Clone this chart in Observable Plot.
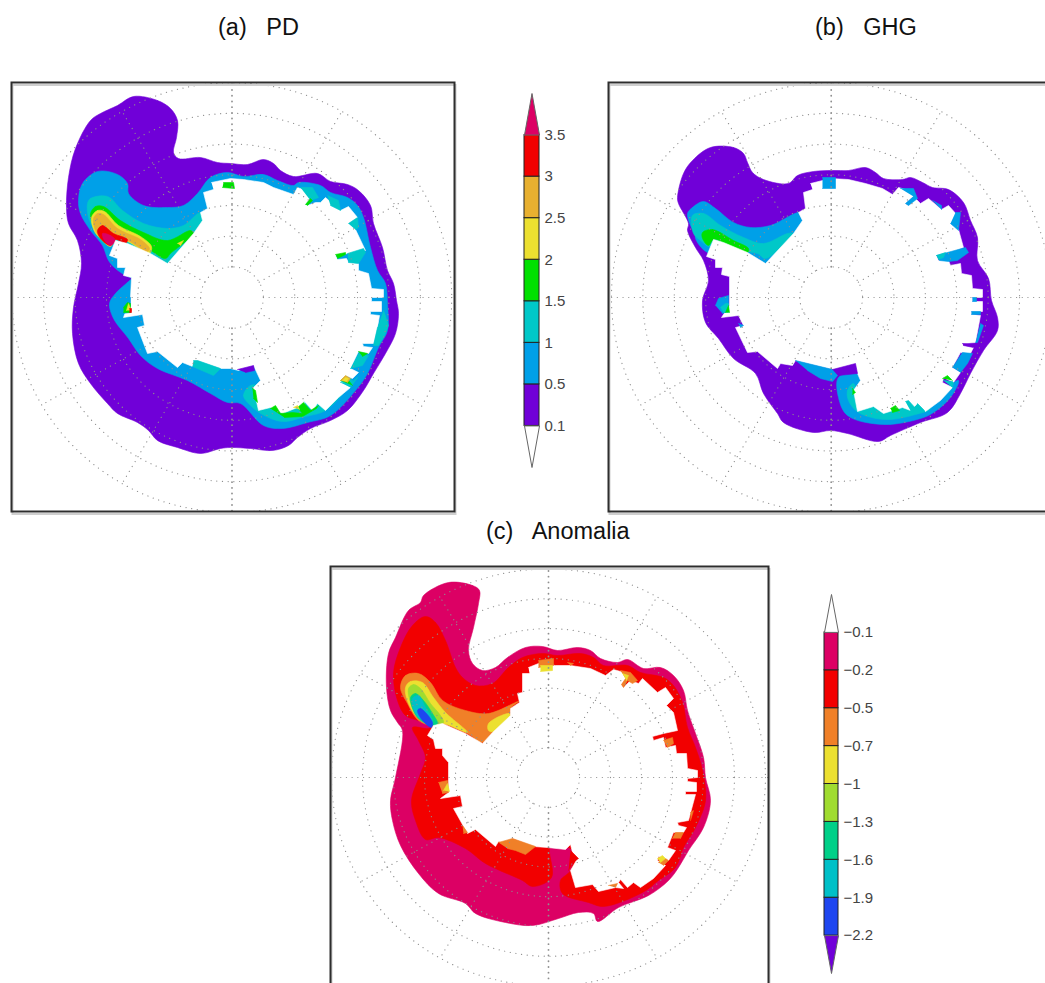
<!DOCTYPE html>
<html>
<head>
<meta charset="utf-8">
<script src="https://cdn.jsdelivr.net/npm/d3@7"></script>
<script src="https://cdn.jsdelivr.net/npm/@observablehq/plot@0.6"></script>
<style>
html,body{margin:0;padding:0;background:#fff;width:1045px;height:983px;overflow:hidden}
.t{position:absolute;font:23.5px "Liberation Sans",Arial,sans-serif;color:#111;white-space:pre;line-height:27px}
.p{position:absolute}
svg{display:block;max-width:none !important}
</style>
</head>
<body>
<div class="t" style="left:218px;top:14px">(a)   PD</div>
<div class="t" style="left:815px;top:14px">(b)   GHG</div>
<div class="t" style="left:486px;top:518px">(c)   Anomalia</div>
<script>
// Colours of the classes
const cCrimson="#dc0064",cRed="#f20000",cGold="#e8b030",cYellow="#ece030",cGreen="#00e000",cTeal="#00c8c8",cBlue="#00a0e8",cPurple="#7000d8";
const cOrange="#f08028",cLime="#a0dc30",cSea="#00d088",cTeal2="#00c0c8",cRoyal="#1e46f0";

// Colour bars
const barALabels=["0.1","0.5","1","1.5","2","2.5","3","3.5"];
const barAColors=[cPurple,cBlue,cTeal,cGreen,cYellow,cGold,cRed];
const barCLabels=["\u22122.2","\u22121.9","\u22121.6","\u22121.3","\u22121","\u22120.7","\u22120.5","\u22120.2","\u22120.1"];
const barCColors=[cRoyal,cTeal2,cSea,cLime,cYellow,cOrange,cRed,cCrimson];

// Panel (a) PD
const aOuter=[[133,96],[157,100],[170,108],[177,120],[176,137],[173,152],[178,158],[200,157],[217,162],[230,163],[247,164],[263,159],[273,163],[280,170],[293,176],[317,173],[330,181],[347,184],[358,190],[370,205],[373,223],[382,247],[387,270],[393,283],[396,300],[398,313],[395,333],[385,353],[373,373],[363,390],[347,410],[330,420],[310,428],[297,437],[288,445],[272,450],[250,448],[230,447],[220,448],[200,453],[177,447],[157,440],[148,430],[137,422],[117,413],[107,403],[90,383],[78,363],[72,333],[73,307],[78,283],[81,263],[77,240],[68,223],[66,207],[68,177],[75,148],[90,120],[100,113],[117,105]];
const aBlue=[[102,245],[90,230],[80,213],[78,200],[82,183],[97,171],[117,174],[127,183],[128,193],[143,205],[167,207],[183,205],[197,193],[210,177],[227,172],[243,176],[263,174],[277,180],[293,185],[298,182],[320,185],[330,192],[347,197],[357,205],[363,217],[370,247],[377,270],[385,283],[387,303],[387,330],[378,347],[367,373],[355,390],[330,415],[307,422],[282,428],[263,425],[240,403],[227,402],[210,393],[187,380],[157,368],[140,355],[128,338],[113,318],[109,303],[115,293],[128,281],[131,278],[125,275],[115,268],[108,260]];
const aTeal=[[87,203],[90,198],[107,196],[122,210],[143,223],[167,228],[183,225],[200,212],[202,220],[193,233],[167,263],[160,260],[140,250],[120,243],[107,245],[100,240],[93,228],[88,217]];
const aTealS=[[250,385],[243,395],[250,405],[262,414],[282,421],[305,416],[325,410],[345,390],[352,380],[300,385],[260,385]];
const aGreen=[[90,213],[95,206],[103,206],[120,220],[143,232],[167,240],[190,230],[193,233],[170,253],[165,258],[150,250],[125,238],[105,240],[100,238],[92,222]];
const aYellow=[[91,217],[97,210],[104,211],[118,225],[140,236],[151,246],[149,253],[127,241],[115,239],[110,246],[100,238],[94,231]];
const aGold=[[93,218],[97,213],[103,214],[117,228],[140,239],[149,248],[147,251],[127,240],[115,238],[110,245],[100,237],[95,230]];
const aRed=[[97,230],[102,225],[113,233],[127,239],[125,243],[115,239],[110,245],[100,238]];
const aCrimson=[[102,233],[110,235],[115,240],[110,245],[104,240]];
const aWhite=[[211,182],[230,178],[243,179],[263,182],[273,187],[293,194],[297,187],[305,190],[312,195],[305,204],[307,205],[315,202],[320,202],[325,197],[340,210],[348,206],[357,217],[348,223],[355,229],[365,250],[347,253],[335,255],[337,259],[346,258],[348,262],[358,263],[358,270],[368,273],[371,288],[383,289],[383,297],[371,297],[371,301],[381,301],[381,311],[370,311],[370,314],[379,315],[377,327],[373,343],[362,343],[363,346],[372,347],[368,353],[358,351],[350,368],[358,372],[352,378],[345,375],[340,381],[350,387],[338,397],[325,410],[317,403],[312,410],[303,400],[307,412],[297,407],[282,413],[270,407],[258,410],[253,387],[260,380],[253,365],[238,370],[230,368],[220,368],[197,360],[192,366],[182,362],[177,367],[157,351],[147,353],[137,327],[144,325],[142,314],[123,317],[130,297],[131,277],[123,275],[125,267],[117,267],[117,258],[109,255],[115,240],[127,243],[150,253],[167,263],[193,233],[202,220],[200,212],[207,208],[203,192],[213,189]];
const aSmall=[
 [cTeal,[[300,187],[312,187],[318,197],[310,200]]],
 [cTeal,[[327,195],[338,200],[340,210],[330,205]]],
 [cTeal,[[348,223],[357,217],[358,227],[355,229]]],
 [cTeal,[[347,253],[363,248],[365,252],[358,263],[348,262]]],
 [cTeal,[[383,310],[388,325],[384,335],[378,345],[373,345],[377,327]]],
 [cTeal,[[358,353],[368,355],[362,365],[350,368]]],
 [cTeal,[[193,360],[197,360],[220,368],[213,375],[192,366]]],
 [cTeal,[[340,382],[350,383],[357,377],[350,387]]],
 [cBlue,[[118,303],[120,298],[130,297],[130,312],[122,313]]],
 [cPurple,[[237,369],[253,365],[254,370],[245,372]]],
 [cGreen,[[223,182],[233,182],[234,188],[222,187]]],
 [cGreen,[[305,204],[310,198],[312,200],[307,205]]],
 [cGreen,[[335,254],[345,252],[345,254],[337,258]]],
 [cGreen,[[358,351],[367,353],[362,356]]],
 [cGreen,[[340,380],[345,376],[352,385]]],
 [cGreen,[[270,408],[275,405],[280,413],[292,412],[302,413],[297,407],[303,402],[310,410],[318,405],[316,408],[302,416],[284,417]]],
 [cGreen,[[252,388],[255,390],[257,402],[253,398]]],
 [cGreen,[[123,307],[127,302],[130,303],[130,312],[123,312]]],
 [cYellow,[[126,310],[128,303],[131,310]]],
 [cRed,[[129,308],[131,308],[131,312],[129,312]]],
 [cYellow,[[177,243],[183,240],[180,245]]],
 [cGold,[[340,380],[345,375],[350,378],[347,382]]],
 [cYellow,[[342,380],[345,377],[348,378],[346,381]]],
 [cYellow,[[293,407],[297,405],[299,409]]]
];

// Panel (b) GHG
const bOuter=[[710,147],[733,147],[743,153],[747,162],[752,172],[763,179],[788,183],[797,175],[813,171],[832,170],[848,170],[865,167],[875,172],[883,178],[902,179],[910,177],[922,182],[932,187],[948,189],[963,202],[970,220],[977,237],[977,260],[988,278],[991,300],[997,317],[997,330],[983,350],[970,373],[960,393],[947,412],[920,422],[890,435],[878,441],[847,433],[830,430],[813,432],[783,422],[777,413],[763,393],[755,373],[733,358],[718,338],[705,322],[702,300],[708,280],[703,260],[695,247],[687,230],[688,223],[678,203],[677,197],[683,173],[692,160]];
const bBlue=[[687,213],[692,207],[703,201],[715,208],[733,222],[750,227],[770,225],[800,212],[802,220],[765,263],[757,258],[707,252],[695,238],[695,233],[691,227]];
const bTeal=[[692,215],[703,213],[720,225],[743,237],[763,243],[787,233],[793,233],[765,258],[757,253],[710,247],[700,240],[693,233]];
const bGreen=[[702,232],[712,229],[733,240],[748,248],[747,252],[723,242],[713,239],[708,245],[702,238]];
const bBlueS=[[838,377],[858,373],[880,390],[925,400],[958,380],[950,397],[933,412],[920,418],[883,424],[847,415],[838,397]];
const bTealS=[[853,383],[847,390],[848,400],[858,412],[885,419],[915,414],[930,408],[925,400],[860,400]];
const bWhite=[[810,183],[830,178],[848,179],[865,183],[882,188],[892,194],[898,187],[905,189],[914,195],[905,203],[908,205],[915,198],[920,203],[928,198],[941,209],[948,205],[957,215],[950,223],[958,229],[963,247],[948,253],[936,255],[938,260],[948,260],[950,265],[960,263],[961,273],[971,275],[972,288],[982,289],[982,297],[972,297],[972,301],[982,301],[982,311],[971,311],[971,314],[980,315],[975,342],[962,343],[963,345],[973,347],[970,353],[960,352],[952,367],[960,372],[953,382],[943,377],[942,382],[952,387],[940,400],[925,411],[917,403],[912,408],[905,401],[910,410],[902,407],[883,413],[873,406],[857,411],[853,390],[860,380],[857,373],[855,365],[832,369],[807,363],[795,360],[792,365],[780,363],[777,368],[757,351],[747,352],[735,327],[743,325],[738,315],[721,317],[729,305],[729,276],[721,274],[722,267],[715,267],[715,259],[706,256],[713,239],[723,242],[747,252],[765,263],[793,233],[802,220],[798,212],[805,208],[803,192],[812,189]];
const bSmall=[
 [cBlue,[[822,177],[835,177],[835,188],[822,188]]],
 [cBlue,[[900,188],[913,188],[917,198],[908,205],[905,203],[913,196]]],
 [cBlue,[[932,200],[941,205],[941,209]]],
 [cBlue,[[955,212],[960,212],[958,230],[950,223]]],
 [cBlue,[[936,255],[965,247],[968,252],[957,260],[948,261],[939,260]]],
 [cTeal,[[936,255],[945,252],[943,257],[938,259]]],
 [cBlue,[[972,297],[976,297],[976,301],[972,301]]],
 [cBlue,[[971,311],[980,311],[980,314],[971,314]]],
 [cBlue,[[980,323],[983,325],[977,342],[975,342]]],
 [cBlue,[[952,367],[962,352],[972,353],[967,363],[960,372]]],
 [cPurple,[[962,343],[973,344],[973,347],[963,345]]],
 [cBlue,[[795,360],[832,369],[837,375],[832,381],[820,378],[807,370]]],
 [cPurple,[[832,369],[855,363],[857,373],[838,375]]],
 [cBlue,[[715,305],[718,298],[728,295],[728,310],[722,313]]],
 [cTeal,[[720,307],[725,303],[728,303],[728,312],[723,312]]],
 [cGreen,[[725,312],[728,305],[729,312]]],
 [cBlue,[[738,323],[743,325],[740,327]]],
 [cGreen,[[942,378],[947,375],[952,380]]],
 [cTeal,[[943,380],[952,381],[953,382],[952,387]]],
 [cGreen,[[852,388],[855,392],[852,394]]],
 [cGreen,[[890,408],[895,405],[899,410],[892,412]]],
 [cTeal,[[905,401],[908,400],[917,410],[910,410]]],
 [cTeal,[[917,403],[924,410],[912,412]]]
];

// Panel (c) Anomalia
const cOuter=[[448,582],[472,585],[479,590],[478,603],[473,627],[468,650],[472,663],[482,670],[495,667],[507,657],[525,647],[542,646],[557,650],[577,647],[590,650],[600,658],[617,662],[627,659],[643,668],[660,667],[673,675],[683,690],[687,710],[695,733],[703,757],[705,777],[710,800],[703,827],[688,850],[678,867],[668,880],[648,895],[618,907],[597,921],[593,913],[578,912],[558,918],[532,925],[505,922],[475,913],[465,903],[438,893],[418,873],[400,845],[392,820],[390,800],[395,777],[402,730],[397,722],[390,710],[386,687],[388,653],[395,637],[408,610],[420,602],[423,595]];
const cRedMain=[[425,616],[435,622],[445,640],[455,667],[462,677],[475,685],[492,683],[508,667],[522,657],[542,653],[557,655],[580,653],[593,657],[603,665],[627,665],[640,672],[663,677],[673,685],[682,702],[687,727],[695,747],[702,770],[705,800],[695,827],[683,847],[675,867],[658,880],[642,892],[603,906],[588,902],[562,893],[560,880],[570,870],[572,850],[550,845],[551,877],[532,886],[522,880],[485,863],[465,848],[438,837],[425,839],[415,820],[411,800],[420,773],[425,757],[418,740],[412,727],[428,728],[432,725],[418,720],[405,715],[397,700],[393,673],[400,647],[412,625]];
const cOrangeMain=[[400,687],[405,675],[418,673],[430,682],[442,700],[465,710],[488,713],[518,701],[510,708],[510,715],[492,732],[482,742],[467,733],[442,723],[432,725],[418,720],[407,703]];
const cYellowMain=[[405,687],[410,681],[422,682],[433,697],[445,712],[467,732],[442,723],[432,725],[418,718],[408,703]];
const cYellowWing=[[488,723],[508,713],[510,715],[493,731],[488,730]];
const cLimeMain=[[408,688],[413,684],[420,688],[430,703],[440,715],[443,722],[432,725],[418,718],[410,702]];
const cSeaMain=[[410,697],[415,693],[423,700],[432,713],[437,723],[432,725],[417,717]];
const cTealMain=[[412,698],[418,695],[425,707],[432,720],[431,725],[422,720],[415,713]];
const cBlueMain=[[417,710],[420,708],[432,722],[431,727],[422,720]];
const cWhite=[[528,667],[538,663],[555,665],[570,665],[590,668],[605,675],[613,669],[620,671],[628,675],[621,684],[623,687],[630,680],[638,683],[642,678],[657,692],[665,687],[673,698],[666,705],[673,712],[677,730],[663,733],[652,736],[653,740],[663,737],[665,747],[675,745],[676,753],[686,753],[687,768],[697,770],[697,777],[687,778],[687,781],[696,782],[696,791],[685,791],[685,794],[695,794],[688,820],[677,822],[678,825],[686,827],[683,832],[673,832],[667,847],[675,850],[668,860],[658,856],[657,860],[665,865],[653,878],[640,887],[633,882],[627,887],[620,879],[618,882],[623,888],[615,887],[598,891],[592,884],[575,887],[570,870],[577,858],[572,852],[570,844],[565,849],[547,847],[533,846],[512,838],[507,843],[498,841],[495,846],[475,829],[467,833],[453,808],[462,806],[460,795],[440,798],[448,792],[448,762],[442,755],[442,748],[435,748],[433,739],[427,735],[433,725],[442,723],[465,733],[482,743],[492,732],[510,715],[510,708],[519,702],[517,693],[522,692],[522,673],[529,673]];
const cSmall=[
 [cOrange,[[538,660],[553,658],[553,665],[538,667]]],
 [cYellow,[[540,665],[552,665],[552,670],[540,671]]],
 [cOrange,[[620,670],[630,672],[637,680],[632,683],[627,680],[623,687],[621,684],[625,678]]],
 [cYellow,[[622,673],[628,675],[626,680]]],
 [cOrange,[[663,740],[672,737],[673,743],[667,747]]],
 [cOrange,[[438,782],[447,780],[448,792],[442,793]]],
 [cYellow,[[443,790],[447,783],[449,791]]],
 [cOrange,[[462,825],[467,832],[463,833]]],
 [cOrange,[[498,842],[512,838],[535,846],[525,854],[515,850],[507,848]]],
 [cOrange,[[672,838],[675,832],[683,832],[680,838]]],
 [cOrange,[[658,862],[665,858],[668,860],[663,865]]],
 [cYellow,[[657,858],[662,855],[665,858],[660,862]]],
 [cOrange,[[690,812],[693,810],[690,820]]],
 [cOrange,[[608,885],[617,883],[615,887]]],
 [cRed,[[570,850],[578,858],[572,862],[568,870]]],
 [cOrange,[[567,662],[573,663],[570,665]]]
];

// Map graticule: rings (every 10 degrees of latitude) and meridians (every 30 degrees of longitude)
const ringSteps=[1,2,3,4,5,6,7];
const meridians=[0,30,60,90,120,150,180,210,240,270,300,330];
const graticuleStroke="#8f8f8f";

function poly(points,color,curve="linear"){
  return Plot.line(points,{x:d=>d[0],y:d=>d[1],fill:color,stroke:color,strokeWidth:0.6,strokeLinejoin:"round",curve,clip:true});
}
function graticule(cx,cy,rx,ry,ext){
  const marks=[];
  for(const s of ringSteps){
    const pts=d3.range(0,361,3).map(a=>[cx+s*rx*Math.cos(a*Math.PI/180),cy+s*ry*Math.sin(a*Math.PI/180)]);
    marks.push(Plot.line(pts,{x:d=>d[0],y:d=>d[1],stroke:graticuleStroke,strokeWidth:1.2,strokeDasharray:"0.1 5.6",strokeLinecap:"round",clip:true}));
  }
  for(const m of meridians){
    const c=Math.cos(m*Math.PI/180),sn=Math.sin(m*Math.PI/180);
    const vert=m%180===90, horiz=m%180===0;
    const far=(vert||horiz)?ext:7;
    const pts=[[cx+c*rx,cy+sn*ry],[cx+far*c*rx,cy+far*sn*ry]];
    marks.push(Plot.line(pts,{x:d=>d[0],y:d=>d[1],stroke:graticuleStroke,strokeWidth:vert?1.8:1.2,strokeDasharray:"0.1 5.6",strokeLinecap:"round",clip:true}));
  }
  return marks;
}
function panel(o){
  const pad=5;
  const w=o.R-o.L+2*pad,h=o.B-o.T+2*pad;
  const svg=Plot.plot({
    width:w,height:h,
    marginLeft:pad,marginRight:pad,marginTop:pad,marginBottom:pad,
    x:{domain:[o.L,o.R],axis:null},y:{domain:[o.B,o.T],axis:null},
    marks:[
      ...o.under.map(([c,p])=>poly(p,c,"catmull-rom-closed")),
      poly(o.white,"#fff"),
      ...o.small.map(([c,p])=>poly(p,c)),
      ...graticule(o.cx,o.cy,o.rx,o.ry,o.ext),
      Plot.frame({stroke:"#cfcfcf",strokeWidth:2,dx:1,dy:2.5}),
      Plot.frame({stroke:"#2e2e2e",strokeWidth:2})
    ]
  });
  const d=document.createElement("div");d.className="p";
  d.style.left=(o.L-pad)+"px";d.style.top=(o.T-pad)+"px";d.style.width=w+"px";d.style.height=h+"px";
  d.appendChild(svg);document.body.appendChild(d);
}
function colorbar(o){
  const n=o.colors.length;
  const rows=o.colors.map((color,i)=>({i,color}));
  const svg=Plot.plot({
    width:o.w,height:o.bottom-o.top,
    marginLeft:o.x1-o.left,marginRight:o.w-(o.x2-o.left),marginTop:0,marginBottom:0,
    x:{domain:[0,1],axis:null},y:{domain:[-1,n+1],axis:null},
    color:{type:"identity"},
    marks:[
      Plot.rect(rows,{x1:()=>0,x2:()=>1,y1:d=>d.i,y2:d=>d.i+1,fill:"color",stroke:"#222",strokeWidth:1}),
      Plot.line([[0,n],[0.5,n+1],[1,n],[0,n]],{x:d=>d[0],y:d=>d[1],fill:o.topFill,stroke:"#666",strokeWidth:1}),
      Plot.line([[0,0],[0.5,-1],[1,0],[0,0]],{x:d=>d[0],y:d=>d[1],fill:o.botFill,stroke:"#666",strokeWidth:1}),
      Plot.axisY(d3.range(n+1),{anchor:"right",label:null,tickSize:0,tickPadding:o.pad,tickFormat:i=>o.labels[i],fontSize:15,fontFamily:"Liberation Sans",fill:"#444",textStroke:"none"})
    ]
  });
  svg.style.overflow="visible";
  const d=document.createElement("div");d.className="p";
  d.style.left=o.left+"px";d.style.top=o.top+"px";d.style.width=o.w+"px";
  d.appendChild(svg);document.body.appendChild(d);
}

panel({L:11,R:454,T:82,B:511,cx:231.5,cy:297,rx:31.4,ry:30.7,ext:7.05,
  under:[[cPurple,aOuter],[cBlue,aBlue],[cTeal,aTeal],[cTeal,aTealS],[cGreen,aGreen],[cYellow,aYellow],[cGold,aGold],[cRed,aRed],[cCrimson,aCrimson]],
  white:aWhite,small:aSmall});
panel({L:608,R:1052,T:82,B:511,cx:830.7,cy:297,rx:31.4,ry:30.7,ext:7.05,
  under:[[cPurple,bOuter],[cBlue,bBlue],[cTeal,bTeal],[cGreen,bGreen],[cBlue,bBlueS],[cTeal,bTealS]],
  white:bWhite,small:bSmall});
panel({L:330,R:768,T:566,B:995,cx:548,cy:777,rx:31,ry:29.8,ext:7.1,
  under:[[cCrimson,cOuter],[cRed,cRedMain],[cOrange,cOrangeMain],[cYellow,cYellowMain],[cYellow,cYellowWing],[cLime,cLimeMain],[cSea,cSeaMain],[cTeal2,cTealMain],[cRoyal,cBlueMain]],
  white:cWhite,small:cSmall});

colorbar({left:510,top:92.7,bottom:466.7,w:70,x1:524,x2:539,colors:barAColors,labels:barALabels,topFill:cCrimson,botFill:"#fff",pad:5});
colorbar({left:810,top:594,bottom:973,w:70,x1:824,x2:838,colors:barCColors,labels:barCLabels,topFill:"#fff",botFill:cPurple,pad:5});
</script>
</body>
</html>
